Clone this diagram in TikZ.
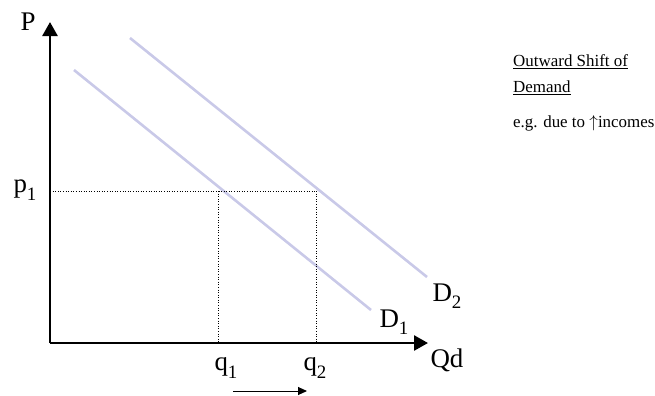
\documentclass[tikz,border=0pt]{standalone}
\usepackage{fontspec}
\setmainfont{Liberation Serif}
\usepackage{xcolor}
\usetikzlibrary{arrows.meta,positioning}
\definecolor{demc}{HTML}{C9C9E8}
\newcommand{\lowsub}[1]{\raisebox{-0.28em}{\fontsize{19}{19}\selectfont #1}}
\tikzset{
  ax/.style={-{Triangle[length=14bp,width=15bp]},line width=2.6bp,black},
  dem/.style={demc,line width=2.6bp},
  guide/.style={dotted,line width=0.6bp,black},
  lab/.style={font=\fontsize{27}{30}\selectfont,inner sep=0pt},
  note/.style={font=\fontsize{17}{26}\selectfont,inner sep=0pt,align=left,anchor=west}
}

\begin{document}
\begin{tikzpicture}[x=1bp,y=-1bp]
\useasboundingbox (0,0) rectangle (655,395);
\coordinate (O) at (50,343);
\coordinate (Ytop) at (50,22);
\coordinate (Xend) at (428,343);
\draw[ax] (O)--(Ytop);
\draw[ax] (O)--(Xend);
\node[lab] (P) at (28,22) {P};
\node[lab] (Q) at (447,360) {Qd};
% demand curves
\coordinate (D1a) at (74,70); \coordinate (D1b) at (371,310);
\coordinate (D2a) at (130,38); \coordinate (D2b) at (427,277);
\draw[dem] (D1a)--(D1b);
\draw[dem] (D2a)--(D2b);
\node[lab] (d1) at (394,322) {D\lowsub{1}};
\node[lab] (d2) at (447,296) {D\lowsub{2}};
% price and quantities
\coordinate (py) at (50,191);
\coordinate (E1) at (218,191); \coordinate (E2) at (316,191);
\coordinate (q1x) at (218,343); \coordinate (q2x) at (316,343);
\draw[guide] (py)--(E2);
\draw[guide] (E1)--(q1x);
\draw[guide] (E2)--(q2x);
\node[lab] (p1) at (25,190) {p\lowsub{1}};
\node[lab] (q1) at (226,368) {q\lowsub{1}};
\node[lab] (q2) at (315,368) {q\lowsub{2}};
\coordinate (sa) at (233,391); \coordinate (sb) at (307,391);
\draw[-{Triangle[length=9bp,width=8bp]},line width=1bp] (sa)--(sb);
% note
\node[note] (head) at (513,75) {\underline{Outward Shift of}\\\underline{Demand}};
\node[note] (why) at (513,123) {e.g. due to $\uparrow$incomes};
\end{tikzpicture}
\end{document}
